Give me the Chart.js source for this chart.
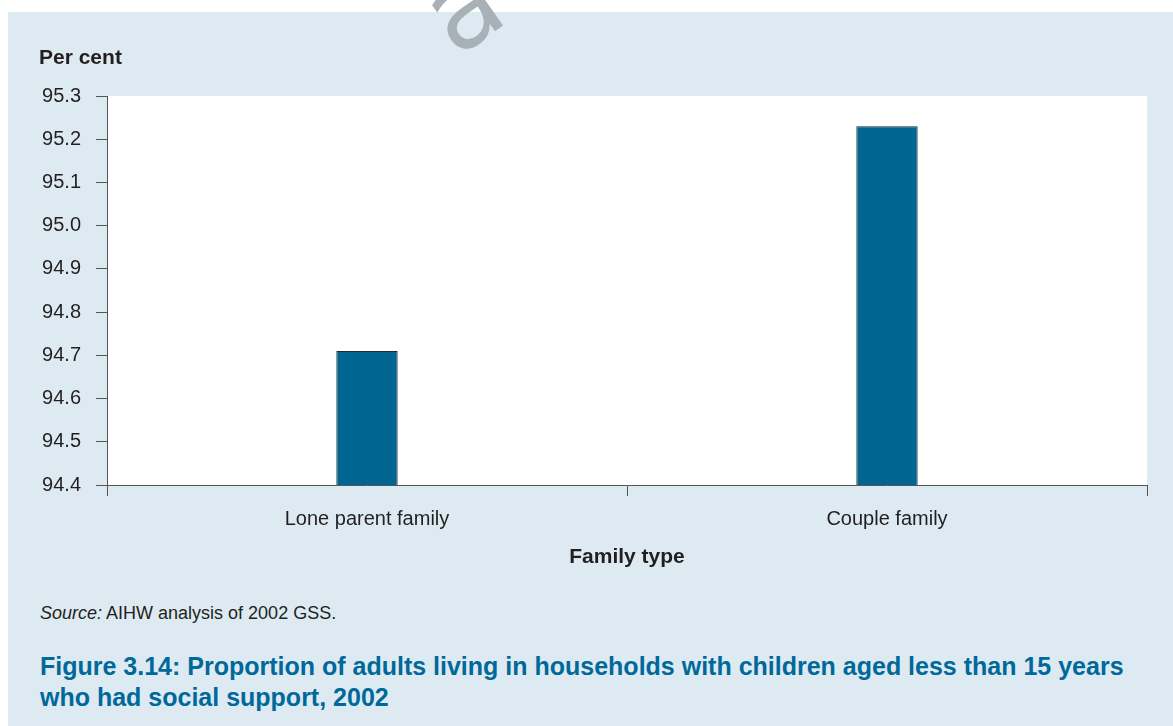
<!DOCTYPE html>
<html>
<head>
<meta charset="utf-8">
<script src="https://cdn.jsdelivr.net/npm/chart.js@4"></script>
<style>
  body { margin: 0; background: #fff; font-family: "Liberation Sans", Arial, sans-serif; }
  #panel { position: absolute; left: 8px; top: 12px; width: 1165px; height: 714px; background: #deeaf2; }
  #mark { position: absolute; left: 428px; top: -56px; font-size: 110px; color: #a8b0b8; transform: rotate(-35deg); font-family: "DejaVu Sans", sans-serif; }
  #wrap { position: absolute; left: 0; top: 0; width: 1173px; height: 580px; }
  #source { position: absolute; left: 40px; top: 603px; font-size: 18px; color: #231f20; }
  #caption { position: absolute; left: 40px; top: 651px; width: 1100px; font-size: 25px; line-height: 31px; font-weight: bold; color: #00699a; }
</style>
</head>
<body>
<div id="panel"></div>
<div id="mark">a</div>
<div id="wrap"><canvas id="chart"></canvas></div>
<div id="source"><i>Source:</i> AIHW analysis of 2002 GSS.</div>
<div id="caption">Figure 3.14: Proportion of adults living in households with children aged less than 15 years who had social support, 2002</div>
<script>
const categories = ["Lone parent family", "Couple family"];
const supportShare = [94.71, 95.23];
const yTicks = [94.4, 94.5, 94.6, 94.7, 94.8, 94.9, 95.0, 95.1, 95.2, 95.3];

const axisColor = "#555555";
const textColor = "#231f20";

// white plot area + the horizontal "Per cent" label
const plotBackground = {
  id: "plotBackground",
  beforeDraw(chart) {
    const { ctx, chartArea } = chart;
    ctx.save();
    ctx.fillStyle = "#ffffff";
    ctx.fillRect(chartArea.left, chartArea.top, chartArea.right - chartArea.left, chartArea.bottom - chartArea.top);
    ctx.restore();
  },
  afterDraw(chart) {
    const { ctx } = chart;
    ctx.save();
    ctx.font = "bold 21px 'Liberation Sans', Arial, sans-serif";
    ctx.fillStyle = textColor;
    ctx.textBaseline = "middle";
    ctx.fillText("Per cent", 39, 58);
    ctx.restore();
  },
};

new Chart(document.getElementById("chart"), {
  type: "bar",
  data: {
    labels: categories,
    datasets: [{
      data: supportShare,
      backgroundColor: "#006691",
      borderColor: "#1e2a33",
      borderWidth: 1,
      barPercentage: 0.118,
      categoryPercentage: 1,
    }],
  },
  options: {
    responsive: true,
    maintainAspectRatio: false,
    animation: false,
    layout: { padding: { top: 96, right: 26, left: 0, bottom: 0 } },
    plugins: {
      legend: { display: false },
      tooltip: { enabled: false },
    },
    scales: {
      x: {
        offset: true,
        grid: { offset: true, drawOnChartArea: false, color: axisColor, tickLength: 11 },
        border: { color: axisColor, width: 1 },
        ticks: { color: textColor, font: { size: 20, family: "'Liberation Sans', Arial, sans-serif" }, padding: 11 },
        title: {
          display: true,
          text: "Family type",
          color: textColor,
          font: { size: 21, weight: "bold", family: "'Liberation Sans', Arial, sans-serif" },
          padding: { top: 4, bottom: 10 },
        },
        afterFit(scale) { scale.height = 95; },
      },
      y: {
        min: 94.4,
        max: 95.3,
        afterBuildTicks(scale) { scale.ticks = yTicks.map(v => ({ value: v })); },
        grid: { drawOnChartArea: false, color: axisColor, tickLength: 11 },
        border: { color: axisColor, width: 1 },
        ticks: {
          color: textColor,
          padding: 15,
          font: { size: 20, family: "'Liberation Sans', Arial, sans-serif" },
          callback: v => Number(v).toFixed(1),
        },
        afterFit(scale) { scale.width = 107; },
      },
    },
  },
  plugins: [plotBackground],
});
</script>
</body>
</html>
